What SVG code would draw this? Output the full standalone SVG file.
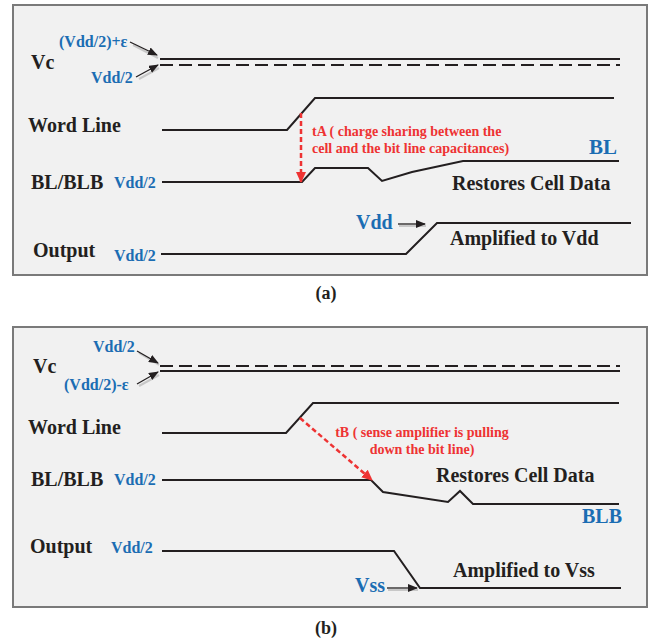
<svg xmlns="http://www.w3.org/2000/svg" width="652" height="641" viewBox="0 0 652 641">
<style>
.panel{fill:#f1f1f1;stroke:#7a7a7a;stroke-width:2}
.sig{fill:none;stroke:#231f20;stroke-width:2;stroke-linejoin:miter}
.dash{fill:none;stroke:#231f20;stroke-width:2;stroke-dasharray:13 6}
.lbl{font-family:"Liberation Serif",serif;font-weight:bold;font-size:20px;fill:#231f20}
.blue{font-family:"Liberation Serif",serif;font-weight:bold;fill:#1b6db3}
.sm{font-size:16px}
.red{font-family:"Liberation Serif",serif;font-weight:bold;font-size:14px;fill:#ee3333}
.cap{font-family:"Liberation Serif",serif;font-weight:bold;font-size:18px;fill:#231f20;text-anchor:middle}
.ptr{fill:none;stroke:#231f20;stroke-width:1.3;marker-end:url(#ah)}
.shadow{fill:none;stroke:#c8c8c8;stroke-width:2}
.rd{fill:none;stroke:#ee3333;stroke-width:2.5;stroke-dasharray:5 3;marker-end:url(#rh)}
</style>
<defs>
<marker id="ah" markerWidth="10" markerHeight="8" refX="9" refY="4" orient="auto" markerUnits="userSpaceOnUse">
<path d="M0,0 L10,4 L0,8 Z" fill="#231f20"/>
</marker>
<marker id="rh" markerWidth="12" markerHeight="10" refX="10" refY="5" orient="auto" markerUnits="userSpaceOnUse">
<path d="M0,0 L11,5 L0,10 Z" fill="#ee3333"/>
</marker>
</defs>

<g id="panel-a">
<rect class="panel" x="13" y="5" width="634" height="270"/>
</g>
<g id="panel-b">
<rect class="panel" x="13" y="327" width="634" height="280"/>
</g>

<!-- Panel (a) labels -->
<g id="a-labels">
<text class="lbl" x="31" y="69">Vc</text>
<text class="lbl" x="28" y="132">Word Line</text>
<text class="lbl" x="31" y="189">BL/BLB</text>
<text class="lbl" x="33" y="257">Output</text>
<text class="blue sm" x="59" y="47">(Vdd/2)+ε</text>
<text class="blue sm" x="91" y="83">Vdd/2</text>
<text class="blue sm" x="114" y="188">Vdd/2</text>
<text class="blue sm" x="114" y="261">Vdd/2</text>
<text class="blue" font-size="21" x="589" y="154">BL</text>
<text class="blue" font-size="20" x="356" y="229">Vdd</text>
<text class="red" x="312" y="136">tA ( charge sharing between the</text>
<text class="red" x="312" y="153">cell and the bit line capacitances)</text>
<text class="lbl" x="452" y="190">Restores Cell Data</text>
<text class="lbl" x="450" y="245">Amplified to Vdd</text>
<text class="cap" x="326" y="299">(a)</text>
</g>

<!-- Panel (b) labels -->
<g id="b-labels">
<text class="lbl" x="33" y="373">Vc</text>
<text class="lbl" x="28" y="434">Word Line</text>
<text class="lbl" x="31" y="486">BL/BLB</text>
<text class="lbl" x="30" y="553">Output</text>
<text class="blue sm" x="93" y="352">Vdd/2</text>
<text class="blue sm" x="64" y="390">(Vdd/2)-ε</text>
<text class="blue sm" x="114" y="485">Vdd/2</text>
<text class="blue sm" x="111" y="553">Vdd/2</text>
<text class="blue" font-size="20" x="582" y="523">BLB</text>
<text class="blue" font-size="20" x="355" y="592">Vss</text>
<text class="red" x="422" y="437" text-anchor="middle">tB ( sense amplifier is pulling</text>
<text class="red" x="422" y="454" text-anchor="middle">down the bit line)</text>
<text class="lbl" x="436" y="482">Restores Cell Data</text>
<text class="lbl" x="453" y="577">Amplified to Vss</text>
<text class="cap" x="326" y="634">(b)</text>
</g>

<!-- Signals and connectors -->
<g id="connectors">
<!-- (a) -->
<line class="sig" x1="160" y1="59" x2="620" y2="59"/>
<line class="dash" x1="160" y1="65" x2="620" y2="65"/>
<polyline class="sig" points="162,130 287,130 315,98 614,98"/>
<polyline class="sig" points="162,182 302,182 315,168 368,168 382,181 412,172 463,161 619,161"/>
<polyline class="sig" points="161,254 406,254 437,223 631,223"/>
<line class="shadow" x1="133" y1="45" x2="158" y2="58"/>
<line class="ptr" x1="130" y1="42" x2="157" y2="55"/>
<line class="shadow" x1="139" y1="79" x2="159" y2="68"/>
<line class="ptr" x1="136" y1="77" x2="158" y2="65"/>
<line class="shadow" x1="399" y1="226" x2="426" y2="226"/>
<line class="ptr" x1="398" y1="224" x2="425" y2="224"/>
<line class="rd" x1="301" y1="113" x2="301" y2="182"/>
<!-- (b) -->
<line class="dash" x1="160" y1="366" x2="620" y2="366"/>
<line class="sig" x1="160" y1="371" x2="620" y2="371"/>
<polyline class="sig" points="162,433 286,433 313,403 619,403"/>
<polyline class="sig" points="162,480 371,480 383,492 448,502 460,491 473,504 619,504"/>
<polyline class="sig" points="162,551 394,551 420,588 621,588"/>
<line class="shadow" x1="139" y1="353" x2="159" y2="365"/>
<line class="ptr" x1="137" y1="351" x2="158" y2="363"/>
<line class="shadow" x1="139" y1="386" x2="159" y2="375"/>
<line class="ptr" x1="137" y1="384" x2="158" y2="372"/>
<line class="shadow" x1="388" y1="590" x2="418" y2="590"/>
<line class="ptr" x1="387" y1="588" x2="417" y2="588"/>
<line class="rd" x1="300" y1="418" x2="372" y2="480"/>
</g>
</svg>
